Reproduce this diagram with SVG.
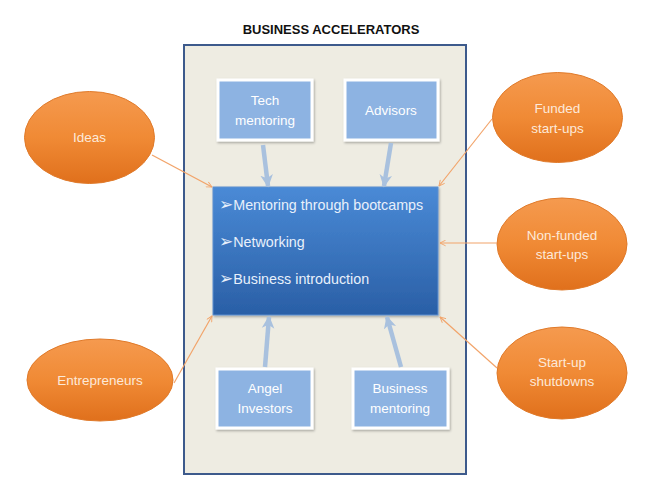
<svg xmlns="http://www.w3.org/2000/svg" width="657" height="500" viewBox="0 0 657 500">
<defs>
<linearGradient id="gMain" x1="0" y1="0" x2="0" y2="1">
<stop offset="0" stop-color="#4a8ad6"/>
<stop offset="1" stop-color="#2a5fa6"/>
</linearGradient>
<linearGradient id="gOrange" x1="0" y1="0" x2="0" y2="1">
<stop offset="0" stop-color="#f59a4f"/>
<stop offset="0.5" stop-color="#f08a35"/>
<stop offset="1" stop-color="#e0701c"/>
</linearGradient>
<filter id="sh" x="-10%" y="-10%" width="130%" height="130%">
<feDropShadow dx="1" dy="1.5" stdDeviation="1.2" flood-color="#000" flood-opacity="0.3"/>
</filter>
<marker id="ao" viewBox="0 0 10 10" refX="9" refY="5" markerWidth="7" markerHeight="7" orient="auto" markerUnits="userSpaceOnUse">
<path d="M1,1 L9,5 L1,9" fill="none" stroke="#f2a46a" stroke-width="1.3"/>
</marker>
<marker id="ab" viewBox="0 0 10 10" refX="8" refY="5" markerWidth="14" markerHeight="14" orient="auto" markerUnits="userSpaceOnUse">
<path d="M0,0.5 L9,5 L0,9.5 L2.5,5 Z" fill="#a9c1de"/>
</marker>
</defs>
<style>
.t{font-family:"Liberation Sans",Arial,sans-serif;}
.small rect{fill:#8db3e2;stroke:#ffffff;stroke-width:3;filter:url(#sh);}
.small text{fill:#ffffff;font-size:13.5px;text-anchor:middle;}
.ov ellipse{fill:url(#gOrange);stroke:#e07a2a;stroke-width:1;}
.ov text{fill:#fde9d9;font-size:13.5px;text-anchor:middle;}
.oc{stroke:#f2a46a;stroke-width:1.2;fill:none;marker-end:url(#ao);}
.bc{stroke:#a9c1de;stroke-width:4.5;fill:none;marker-end:url(#ab);}
.mt{fill:#e8f0fb;font-size:14.3px;}
.bul{font-family:"DejaVu Sans",sans-serif;font-size:17px;}
</style>
<rect width="657" height="500" fill="#ffffff"/>
<text class="t" x="331" y="34" text-anchor="middle" font-size="13" font-weight="bold" fill="#111">BUSINESS ACCELERATORS</text>
<g id="container">
<rect x="184" y="45" width="282" height="429" fill="#eeece2" stroke="#3d5a8c" stroke-width="2"/>
</g>
<g id="main">
<rect x="213" y="187" width="225" height="128" fill="url(#gMain)" stroke="#5d8fcf" stroke-width="1" filter="url(#sh)"/>
<text class="t mt" x="219" y="210"><tspan class="bul">➢</tspan>Mentoring through bootcamps</text>
<text class="t mt" x="219" y="247"><tspan class="bul">➢</tspan>Networking</text>
<text class="t mt" x="219" y="284"><tspan class="bul">➢</tspan>Business introduction</text>
</g>
<g id="tech" class="small t">
<rect x="218" y="80" width="94" height="60"/>
<text x="265" y="105">Tech</text>
<text x="265" y="125">mentoring</text>
</g>
<g id="advisors" class="small t">
<rect x="345" y="80" width="93" height="60"/>
<text x="391" y="115">Advisors</text>
</g>
<g id="angel" class="small t">
<rect x="217" y="369" width="95" height="59"/>
<text x="265" y="393">Angel</text>
<text x="265" y="413">Investors</text>
</g>
<g id="bizmentoring" class="small t">
<rect x="353" y="369" width="95" height="59"/>
<text x="400" y="393">Business</text>
<text x="400" y="413">mentoring</text>
</g>
<g id="ideas" class="ov t">
<ellipse cx="89.5" cy="137.5" rx="65" ry="46"/>
<text x="89.5" y="142">Ideas</text>
</g>
<g id="entrepreneurs" class="ov t">
<ellipse cx="100" cy="380" rx="73" ry="41"/>
<text x="100" y="385">Entrepreneurs</text>
</g>
<g id="funded" class="ov t">
<ellipse cx="557.5" cy="117.5" rx="65" ry="45"/>
<text x="557.5" y="113">Funded</text>
<text x="557.5" y="133">start-ups</text>
</g>
<g id="nonfunded" class="ov t">
<ellipse cx="562" cy="244" rx="65" ry="46"/>
<text x="562" y="240">Non-funded</text>
<text x="562" y="259">start-ups</text>
</g>
<g id="shutdowns" class="ov t">
<ellipse cx="562" cy="373" rx="65" ry="46"/>
<text x="562" y="367">Start-up</text>
<text x="562" y="386">shutdowns</text>
</g>
<g id="connectors">
<line class="oc" x1="152" y1="155" x2="212" y2="187"/>
<line class="oc" x1="492" y1="119" x2="439" y2="186"/>
<line class="oc" x1="497" y1="243" x2="440" y2="243"/>
<line class="oc" x1="497" y1="368" x2="440" y2="317"/>
<line class="oc" x1="174" y1="383" x2="212" y2="316"/>
<line class="bc" x1="263" y1="145" x2="268" y2="186"/>
<line class="bc" x1="391" y1="143" x2="384" y2="186"/>
<line class="bc" x1="265" y1="367" x2="269" y2="317"/>
<line class="bc" x1="401" y1="367" x2="387" y2="317"/>
</g>
</svg>
